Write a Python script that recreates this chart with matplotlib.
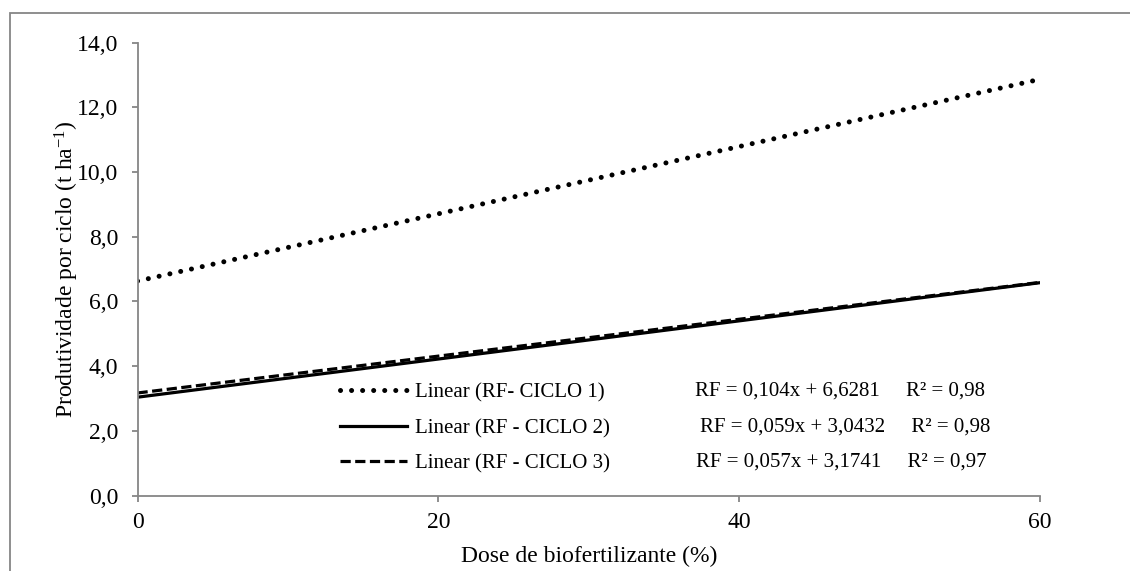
import matplotlib
matplotlib.use("Agg")
import matplotlib.pyplot as plt
from matplotlib.patches import Rectangle

plt.rcParams["font.family"] = ["Liberation Serif", "DejaVu Serif"]
plt.rcParams["mathtext.fontset"] = "custom"
plt.rcParams["mathtext.rm"] = "Liberation Serif"
plt.rcParams["mathtext.default"] = "regular"

# trend line end points (dose 0 and 60 %)
dose = [0, 60]
ciclo_1 = [6.63, 12.87]
ciclo_2 = [3.04, 6.58]
ciclo_3 = [3.17, 6.59]

labels = ["Linear (RF- CICLO 1)", "Linear (RF - CICLO 2)", "Linear (RF - CICLO 3)"]
equations = [
    "RF = 0,104x + 6,6281     R\u00b2 = 0,98",
    "RF = 0,059x + 3,0432     R\u00b2 = 0,98",
    "RF = 0,057x + 3,1741     R\u00b2 = 0,97",
]
x_ticks = [0, 20, 40, 60]
y_ticks = [0, 2, 4, 6, 8, 10, 12, 14]

GRAY = "#868686"
FS = 17
FS_LEG = 15

fig = plt.figure(figsize=(11.3, 5.71), dpi=100)
ax = fig.add_axes([0.1217, 0.1322, 0.9204 - 0.1217, 0.9252 - 0.1322])

# outer chart frame (right and bottom edges fall outside the image)
fig.patches.append(Rectangle((10 / 1130, -0.1), 1.2, 1.1 - 12.7 / 571,
                             transform=fig.transFigure, fill=False,
                             edgecolor=GRAY, linewidth=1.3))

l1, = ax.plot(dose, ciclo_1, color="black", linewidth=3.6,
              linestyle=(0, (0.01, 2.2)), dash_capstyle="round", label=labels[0])
l2, = ax.plot(dose, ciclo_2, color="black", linewidth=2.3,
              linestyle="-", label=labels[1])
l3, = ax.plot(dose, ciclo_3, color="black", linewidth=2.3,
              linestyle=(0, (3.2, 1.4)), label=labels[2])

ax.set_xlim(0, 60)
ax.set_ylim(0, 14)
ax.set_xticks(x_ticks)
ax.set_xticklabels([str(v) for v in x_ticks])
ax.set_yticks(y_ticks)
ax.set_yticklabels([f"{v:.1f}".replace(".", ",") for v in y_ticks])

for side in ["top", "right"]:
    ax.spines[side].set_visible(False)
for side in ["left", "bottom"]:
    ax.spines[side].set_color(GRAY)
    ax.spines[side].set_linewidth(1.3)
ax.tick_params(axis="both", direction="out", length=4, width=1.3, color=GRAY,
               labelsize=FS)
ax.tick_params(axis="y", pad=10)
ax.tick_params(axis="x", pad=8)

ax.set_xlabel("Dose de biofertilizante (%)", fontsize=FS, labelpad=9)
ax.set_ylabel("Produtividade por ciclo (t ha$^{-1}$)", fontsize=FS, labelpad=-3)

leg = ax.legend(handles=[l1, l2, l3], loc="upper left",
                bbox_to_anchor=(340 / 1130, 1 - 383 / 571),
                bbox_transform=fig.transFigure, frameon=False, fontsize=FS_LEG,
                handlelength=3.2, handletextpad=0.4, labelspacing=0.76,
                borderpad=0, borderaxespad=0)

eq_y = [391, 427, 462]
eq_x = [695, 700, 696]
for text, xp, yp in zip(equations, eq_x, eq_y):
    fig.text(xp / 1130, 1 - yp / 571, text, fontsize=FS_LEG, ha="left", va="center")

fig.savefig("out.png", dpi=100)
